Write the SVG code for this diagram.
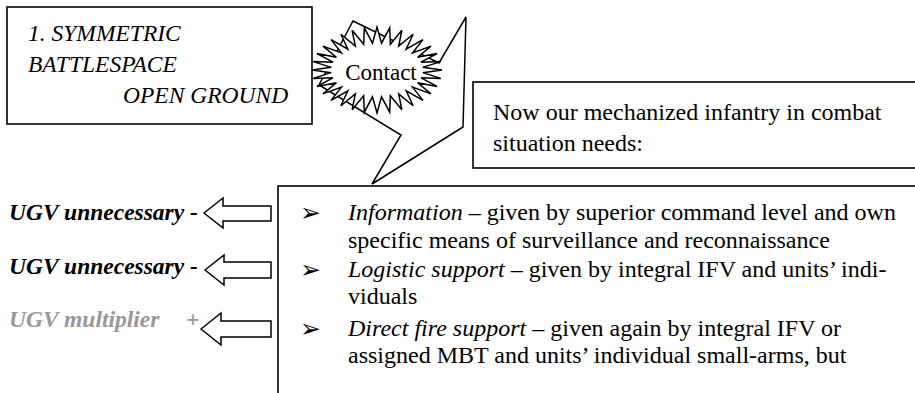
<svg xmlns="http://www.w3.org/2000/svg" width="915" height="393" viewBox="0 0 915 393">
<style>
.box{fill:#fff;stroke:#000;stroke-width:1.6}
.ln{fill:#fff;stroke:#000;stroke-width:1.5;stroke-linejoin:miter}
text{font-family:'Liberation Serif','DejaVu Serif',serif;fill:#000}
.hd{font-size:23.5px;font-style:italic}
.body{font-size:24px}
.lab{font-size:23.5px;font-style:italic;font-weight:bold}
.bul{font-family:'DejaVu Sans',sans-serif;font-size:25px}
</style>
<rect width="915" height="393" fill="#fff"/>
<g id="callout">
<polygon class="ln" points="353,21 439,63 466,17 463,127 372,184 401,135 319,85"/>
</g>
<g id="box-symmetric">
<rect class="box" x="7" y="7" width="305" height="117"/>
<text class="hd" x="28" y="41" font-family="Liberation Serif, serif">1. SYMMETRIC</text>
<text class="hd" x="28" y="72" font-family="Liberation Serif, serif">BATTLESPACE</text>
<text class="hd" x="123" y="103" font-family="Liberation Serif, serif">OPEN GROUND</text>
</g>
<g id="contact">
<path class="ln" d="M442,70 L422.78,67.35 L440.75,61.61 L421.02,62.16 L437.05,53.54 L417.57,57.27 L431.05,46.11 L412.56,52.87 L422.96,39.59 L406.18,49.13 L413.11,34.25 L398.68,46.19 L401.87,30.27 L390.35,44.16 L389.68,27.83 L381.51,43.13 L377,27 L372.49,43.13 L364.32,27.83 L363.65,44.16 L352.13,30.27 L355.32,46.19 L340.89,34.25 L347.82,49.13 L331.04,39.59 L341.44,52.87 L322.95,46.11 L336.43,57.27 L316.95,53.54 L332.98,62.16 L313.25,61.61 L331.22,67.35 L312,70 L331.22,72.65 L313.25,78.39 L332.98,77.84 L316.95,86.46 L336.43,82.73 L322.95,93.89 L341.44,87.13 L331.04,100.41 L347.82,90.87 L340.89,105.75 L355.32,93.81 L352.13,109.73 L363.65,95.84 L364.32,112.17 L372.49,96.87 L377,113 L381.51,96.87 L389.68,112.17 L390.35,95.84 L401.87,109.73 L398.68,93.81 L413.11,105.75 L406.18,90.87 L422.96,100.41 L412.56,87.13 L431.05,93.89 L417.57,82.73 L437.05,86.46 L421.02,77.84 L440.75,78.39 L422.78,72.65 Z"/>
<text x="381" y="80" font-size="23" text-anchor="middle" font-family="Liberation Serif, serif">Contact</text>
</g>
<g id="box-needs">
<rect class="box" x="473" y="82" width="460" height="86"/>
<text class="body" x="493" y="120" font-family="Liberation Serif, serif">Now our mechanized infantry in combat</text>
<text class="body" x="493" y="151" font-family="Liberation Serif, serif">situation needs:</text>
</g>
<g id="box-list">
<rect class="box" x="278" y="186" width="660" height="230"/>
<text class="bul" x="300" y="221">➢</text>
<text class="bul" x="300" y="278">➢</text>
<text class="bul" x="300" y="337">➢</text>
<text class="body" x="348" y="220" font-family="Liberation Serif, serif"><tspan font-style="italic">Information</tspan> – given by superior command level and own</text>
<text class="body" x="348" y="248" font-family="Liberation Serif, serif">specific means of surveillance and reconnaissance</text>
<text class="body" x="348" y="277" font-family="Liberation Serif, serif"><tspan font-style="italic">Logistic support</tspan> – given by integral IFV and units’ indi-</text>
<text class="body" x="348" y="304" font-family="Liberation Serif, serif">viduals</text>
<text class="body" x="348" y="336" font-family="Liberation Serif, serif"><tspan font-style="italic">Direct fire support</tspan> – given again by integral IFV or</text>
<text class="body" x="348" y="363" font-family="Liberation Serif, serif">assigned MBT and units’ individual small-arms, but</text>
</g>
<g id="labels">
<text class="lab" x="9" y="220" font-family="Liberation Serif, serif">UGV unnecessary -</text>
<text class="lab" x="9" y="274" font-family="Liberation Serif, serif">UGV unnecessary -</text>
<text class="lab" x="9" y="327" font-family="Liberation Serif, serif" style="fill:#999">UGV multiplier<tspan x="186">+</tspan></text>
</g>
<g id="connectors">
<path class="ln" d="M204,213 L223,198 L223,206 L271,206 L271,221 L223,221 L223,228 Z"/>
<path class="ln" d="M205,270 L224,255 L224,262 L271,262 L271,278 L224,278 L224,285 Z"/>
<path class="ln" d="M201,329 L221,313 L221,321 L271,321 L271,337 L221,337 L221,345 Z"/>
</g>
</svg>
